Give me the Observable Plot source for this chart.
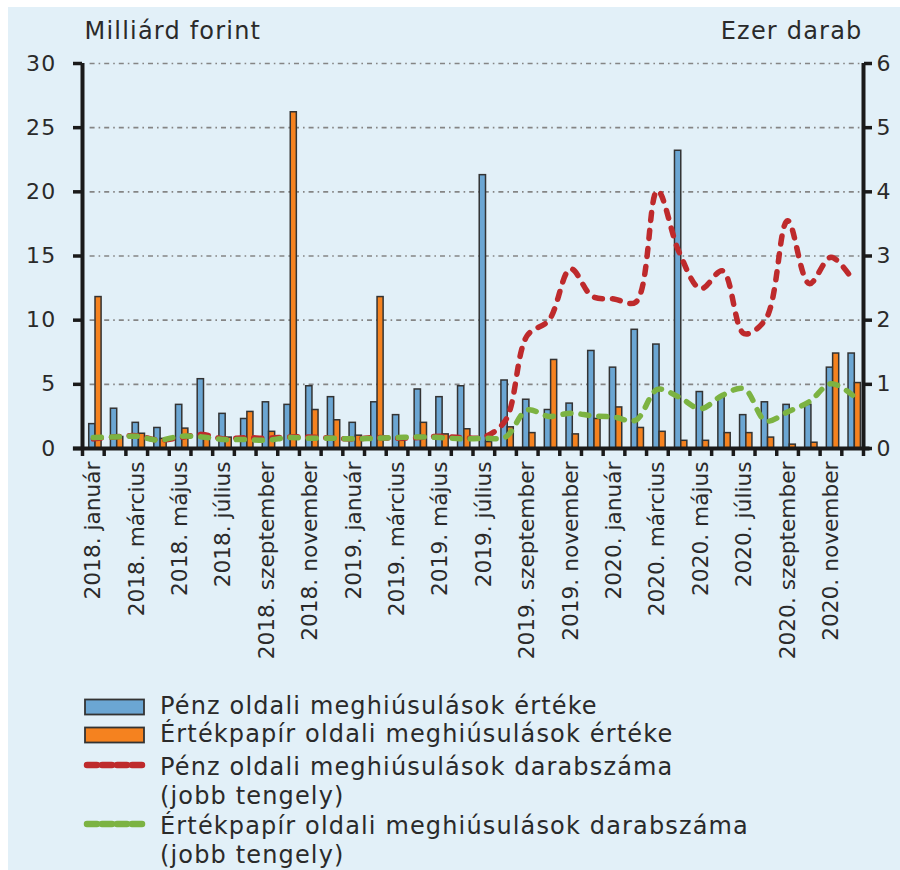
<!DOCTYPE html>
<html>
<head>
<meta charset="utf-8">
<script src="https://cdn.jsdelivr.net/npm/d3@7"></script>
<script src="https://cdn.jsdelivr.net/npm/@observablehq/plot@0.6"></script>
<style>
  html, body { margin: 0; padding: 0; background: #fff; overflow: hidden; }
  #bg { position: absolute; left: 8px; top: 7px; width: 892px; height: 863px; background: #E2F0F8; }
  #chart { position: absolute; left: 0; top: 0; }
  #chart svg text { letter-spacing: 1.2px; }
  #chart g[aria-label="x-axis tick label"] text { letter-spacing: 0px; }
  #legend { position: absolute; left: 0; top: 690px; font-family: "DejaVu Sans", sans-serif; font-size: 24px; letter-spacing: 1.15px; color: #2a2a2a; }
  .item { position: absolute; left: 85px; white-space: nowrap; }
  .sw { position: absolute; left: 0; }
  .lbl { position: absolute; left: 75px; line-height: 29px; }
</style>
</head>
<body>
<div id="bg"></div>
<div id="chart"></div>
<div id="legend"></div>
<script>
// ---- data ----
const years = ["2018", "2019", "2020"];
const months = ["január", "február", "március", "április", "május", "június",
                "július", "augusztus", "szeptember", "október", "november", "december"];
const categories = years.flatMap(y => months.map(m => `${y}. ${m}`));

// Milliárd forint (left axis)
const penzErtek = [1.9, 3.1, 2.0, 1.6, 3.4, 5.4, 2.7, 2.3, 3.6, 3.4, 4.85, 4.0,
                   2.0, 3.6, 2.6, 4.6, 4.0, 4.85, 21.3, 5.3, 3.8, 3.0, 3.5, 7.6,
                   6.3, 9.25, 8.1, 23.2, 4.4, 4.0, 2.6, 3.6, 3.4, 3.4, 6.3, 7.4];
const ertekpapirErtek = [11.8, 0.9, 1.15, 0.75, 1.55, 1.0, 0.85, 2.85, 1.3, 26.2, 3.0, 2.2,
                         1.0, 11.8, 0.6, 2.0, 1.1, 1.5, 0.5, 1.65, 1.2, 6.9, 1.1, 2.3,
                         3.2, 1.6, 1.3, 0.6, 0.6, 1.2, 1.2, 0.85, 0.3, 0.45, 7.4, 5.1];
// Ezer darab (right axis)
const penzDarab = [0.15, 0.18, 0.2, 0.13, 0.17, 0.22, 0.15, 0.17, 0.16, 0.18, 0.18, 0.16,
                   0.15, 0.17, 0.16, 0.17, 0.19, 0.17, 0.18, 0.44, 1.76, 2.0, 2.8, 2.37,
                   2.33, 2.28, 4.02, 3.06, 2.49, 2.77, 1.79, 2.02, 3.55, 2.57, 2.98, 2.63];
const ertekpapirDarab = [0.17, 0.18, 0.19, 0.13, 0.19, 0.18, 0.14, 0.14, 0.13, 0.17, 0.16, 0.16,
                         0.15, 0.16, 0.17, 0.18, 0.17, 0.15, 0.16, 0.18, 0.6, 0.5, 0.55, 0.51,
                         0.49, 0.44, 0.92, 0.8, 0.62, 0.83, 0.93, 0.43, 0.57, 0.73, 1.01, 0.83];

const leftTicks = [0, 5, 10, 15, 20, 25, 30];
const rightTickLabels = ["0", "1", "2", "3", "4", "5", "6"];
const ratio = 5; // 1 ezer darab = 5 on the left scale (30 / 6)

const colors = { blue: "#6BA6D3", orange: "#F5821F", red: "#BE2A2C", green: "#7CB342" };
const txt = "#2a2a2a";

const idx = d3.range(categories.length);
const labelIdx = idx.filter(i => i % 2 === 0);

const chart = Plot.plot({
  width: 900,
  height: 690,
  marginLeft: 82,
  marginRight: 37,
  marginTop: 63,
  marginBottom: 242,
  style: { fontFamily: "'DejaVu Sans', sans-serif", fontSize: "22px", color: txt, background: "transparent", overflow: "visible" },
  x: { type: "linear", domain: [0, categories.length], axis: null },
  y: { domain: [0, 30], axis: null },
  marks: [
    // grid
    Plot.ruleY(leftTicks.slice(1), { x1: 0.35, x2: categories.length, stroke: "#858585", strokeWidth: 1.6, strokeDasharray: "5,4,1.6,4" }),
    // bars
    Plot.rect(idx, { x1: i => i + 0.31, x2: i => i + 0.6, y1: 0, y2: i => penzErtek[i], fill: colors.blue, stroke: "#333", strokeWidth: 1.5 }),
    Plot.rect(idx, { x1: i => i + 0.6, x2: i => i + 0.88, y1: 0, y2: i => ertekpapirErtek[i], fill: colors.orange, stroke: "#333", strokeWidth: 1.5 }),
    // lines (right axis)
    Plot.line(idx, { x: i => i + 0.5, y: i => penzDarab[i] * ratio, stroke: colors.red, strokeWidth: 5.5, strokeDasharray: "8,10", strokeLinecap: "round", curve: "catmull-rom" }),
    Plot.line(idx, { x: i => i + 0.5, y: i => ertekpapirDarab[i] * ratio, stroke: colors.green, strokeWidth: 5.5, strokeDasharray: "8,10", strokeLinecap: "round", curve: "catmull-rom" }),
    // axis lines
    Plot.ruleX([0], { stroke: "#1a1a1a", strokeWidth: 4 }),
    Plot.ruleX([categories.length], { stroke: "#1a1a1a", strokeWidth: 4 }),
    Plot.ruleY([0], { x1: -0.42, x2: categories.length + 0.3, stroke: "#1a1a1a", strokeWidth: 4 }),
    // left axis
    Plot.axisY({ anchor: "left", ticks: leftTicks, tickSize: 9, tickPadding: 17, strokeWidth: 3.5, stroke: "#1a1a1a", fontSize: 22, label: null }),
    // right axis
    Plot.axisY({ anchor: "right", ticks: leftTicks, tickFormat: d => rightTickLabels[leftTicks.indexOf(d)], tickSize: 8, tickPadding: 5, strokeWidth: 3.5, stroke: "#1a1a1a", fontSize: 22, label: null }),
    // x tick marks at category boundaries
    Plot.axisX({ ticks: d3.range(categories.length + 1), tickSize: 8, tickFormat: () => "", strokeWidth: 3.5, stroke: "#1a1a1a", label: null }),
    // x labels
    Plot.axisX({ ticks: labelIdx.map(i => i + 0.5), tickSize: 0, tickPadding: 13, tickRotate: -90, tickFormat: d => categories[Math.round(d - 0.5)], fontSize: 21.7, label: null }),
    // axis titles
    Plot.text(["Milliárd forint"], { frameAnchor: "top-left", dx: 2, dy: -32, textAnchor: "start", lineAnchor: "middle", fontSize: 24, fill: txt }),
    Plot.text(["Ezer darab"], { frameAnchor: "top-right", dx: -1, dy: -32, textAnchor: "end", lineAnchor: "middle", fontSize: 24, fill: txt })
  ]
});
document.getElementById("chart").appendChild(chart);

// legend
const legendItems = [
  { type: "rect", color: colors.blue, text: "Pénz oldali meghiúsulások értéke", top: 2 },
  { type: "rect", color: colors.orange, text: "Értékpapír oldali meghiúsulások értéke", top: 30 },
  { type: "line", color: colors.red, text: "Pénz oldali meghiúsulások darabszáma<br>(jobb tengely)", top: 63 },
  { type: "line", color: colors.green, text: "Értékpapír oldali meghiúsulások darabszáma<br>(jobb tengely)", top: 122 }
];
const legend = d3.select("#legend");
for (const it of legendItems) {
  const item = legend.append("div").attr("class", "item").style("top", it.top + "px");
  const sw = item.append("svg").attr("class", "sw").attr("width", 66).attr("height", 30).style("top", "0px").style("left", "-2px");
  if (it.type === "rect") {
    sw.append("rect").attr("x", 2).attr("y", 7.5).attr("width", 59).attr("height", 15)
      .attr("fill", it.color).attr("stroke", "#333").attr("stroke-width", 1.8);
  } else {
    sw.append("line").attr("x1", 4).attr("x2", 62).attr("y1", 12).attr("y2", 12)
      .attr("stroke", it.color).attr("stroke-width", 6.5).attr("stroke-dasharray", "10,5").attr("stroke-linecap", "round");
  }
  item.append("div").attr("class", "lbl").html(it.text);
}
</script>
</body>
</html>
